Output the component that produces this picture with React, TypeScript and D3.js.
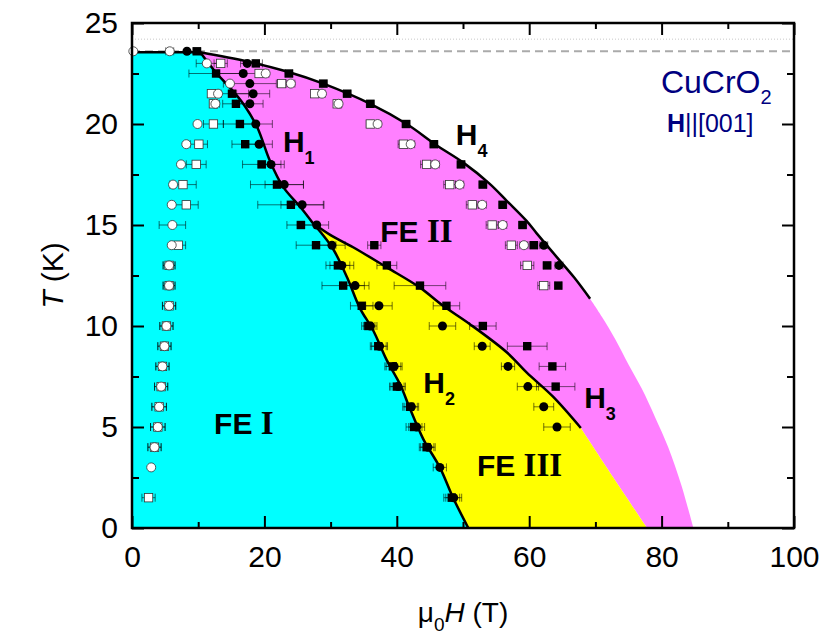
import React, { useEffect, useRef } from 'react'
import * as d3 from 'd3'

const svgWidth = 830
const svgHeight = 636
const box = { left: 132, right: 794, top: 23, bottom: 528 }

const sans = '"Liberation Sans", Arial, sans-serif'
const serif = '"Liberation Serif", "Times New Roman", serif'

const xTicks = [0, 20, 40, 60, 80, 100]
const xMinor = [10, 30, 50, 70, 90]
const yTicks = [0, 5, 10, 15, 20, 25]
const yMinor = [2.5, 7.5, 12.5, 17.5, 22.5]

// phase boundaries, [mu0H (T), T (K)]
const topLine = [[0, 23.55], [10.3, 23.55]]
const h1Line = [[10.3, 23.55], [12.8, 22.5], [14.8, 21.8], [16.8, 21.0], [18.9, 19.85], [20.8, 18.2], [22.8, 16.9], [25.4, 15.9], [27.3, 15.1]]
const h2Line = [[27.3, 15.1], [28.6, 14.6], [30.4, 13.8], [32.5, 12.4], [34.4, 10.9], [36.4, 9.8], [38.5, 8.3], [40.5, 7.1], [42, 5.9], [44, 4.4], [46.5, 3.0], [48.5, 1.5], [50.8, 0]]
const h3Line = [[27.3, 15.1], [30, 14.5], [33.4, 13.9], [38.5, 12.9], [43.5, 11.9], [47, 11.0], [51, 10.1], [56.6, 8.7], [59.6, 7.7], [63.6, 6.5], [67.8, 4.95]]
const h4Line = [[10.3, 23.55], [17.4, 23.1], [23.4, 22.6], [28.9, 22.0], [36, 21.0], [41.5, 20.0], [46, 18.95], [50, 18.1], [54, 17.05], [56.6, 16.2], [59.6, 15.2], [61.1, 14.6], [64.2, 13.4], [66.8, 12.4], [69.2, 11.35]]
// edges of the shaded areas that have no drawn line
const feIIEdge = [[69.2, 11.35], [71, 10.45], [73, 9.35], [75, 8.1], [77, 6.9], [79, 5.5], [81, 4.0], [83, 2.1], [84.8, 0]]
const feIIIEdge = [[67.8, 4.95], [72.7, 2.5], [77.8, 0]]

// [mu0H, T, error in mu0H]
const openCircles = [
	[0.2, 23.6, 0], [5.7, 23.6, 0.6], [11.3, 23, 1.6], [20.2, 22.5, 0.5], [14.8, 22, 0], [24.0, 22, 0.6],
	[13.0, 21.5, 0.5], [28.7, 21.5, 0.5], [12.6, 21, 0.6], [31.2, 21, 0.5],
	[9.9, 20, 0], [37.1, 20, 0.5], [8.2, 19, 0], [42.1, 19, 0.6], [7.4, 18, 0], [45.8, 18, 0.6],
	[6.2, 17, 0], [49.5, 17, 0.6], [6.0, 16, 0], [52.9, 16, 0.6], [6.1, 15, 2.0], [56.0, 15, 0.6],
	[6.0, 14, 0], [59.2, 14, 0.6], [5.6, 13, 0.9], [5.6, 12, 0.9], [5.6, 11, 1.0], [5.2, 10, 1.0],
	[4.9, 9, 1.0], [4.6, 8, 1.0], [4.4, 7, 1.0], [4.1, 6, 1.1], [3.9, 5, 1.1], [3.4, 4, 1.0], [2.9, 3, 0],
]
const openSquares = [
	[13.4, 23, 1.0], [19.2, 22.5, 0.5], [22.6, 22, 0.6],
	[12.0, 21.5, 0.5], [27.6, 21.5, 0.5], [12.3, 21, 0.6], [31.0, 21, 0.5],
	[12.3, 20, 1.5], [36.0, 20, 0.6], [10.1, 19, 1.3], [41.0, 19, 0.8], [9.7, 18, 1.5], [44.5, 18, 0.9],
	[7.7, 17, 2.0], [48.0, 17, 0.9], [8.2, 16, 1.8], [51.4, 16, 0.9], [54.4, 15, 0.9],
	[7.0, 14, 1.1], [57.3, 14, 0.9], [5.6, 13, 0.9], [59.7, 13, 1.0], [5.6, 12, 0.9], [62.2, 12, 0.9],
	[5.6, 11, 1.0], [5.2, 10, 1.0], [4.9, 9, 1.0], [4.6, 8, 1.0], [4.4, 7, 1.0], [4.1, 6, 1.1],
	[3.9, 5, 1.1], [3.4, 4, 1.0], [2.5, 1.5, 1.0],
]
const filledSquares = [
	[9.8, 23.6, 0.6], [18.7, 23, 1.0], [23.7, 22.5, 0.6], [28.9, 22, 0.6], [32.5, 21.5, 0.6], [36.0, 21, 0.6],
	[41.4, 20, 0.6], [45.6, 19, 0.6], [49.7, 18, 0.6], [53.0, 17, 0.6], [56.0, 16, 0.6], [59.0, 15, 0.6],
	[60.7, 14, 0.6], [62.7, 13, 0.6], [64.4, 12, 0.5],
	[12.7, 22.5, 4.1], [15.1, 21.5, 2.5], [15.7, 21, 2.0], [16.3, 20, 2.5], [17.1, 19, 2.0], [19.6, 18, 2.9],
	[21.9, 17, 4.0], [24.0, 16, 5.0], [25.5, 15, 2.1], [27.8, 14, 3.0], [31.1, 13, 1.8], [31.9, 12, 3.2],
	[34.7, 11, 1.7], [35.7, 10, 1.0], [37.2, 9, 1.2], [39.4, 8, 1.2], [40.0, 7, 1.1], [42.0, 6, 1.1],
	[42.6, 5, 1.2], [44.5, 4, 1.1], [48.3, 1.5, 1.2],
	[36.6, 14, 1.0], [38.5, 13, 1.5], [43.5, 12, 3.9], [47.5, 11, 2.0], [53.0, 10, 2.0], [59.7, 9, 3.0],
	[63.5, 8, 2.0], [64.0, 7, 2.9],
]
const filledCircles = [
	[8.3, 23.6, 0], [17.4, 23, 1.0], [16.8, 22.5, 3.8], [17.8, 22, 4.0], [18.3, 21.5, 2.5], [17.8, 21, 2.0],
	[18.7, 20, 2.5], [19.2, 19, 2.0], [21.0, 18, 2.0], [23.0, 17, 2.9], [25.7, 16, 3.2], [27.9, 15, 1.8],
	[30.2, 14, 2.0], [31.7, 13, 1.8], [33.7, 12, 2.1], [37.3, 11, 2.0], [36.0, 10, 1.0], [37.4, 9, 1.2],
	[39.6, 8, 1.2], [40.2, 7, 1.1], [42.2, 6, 1.1], [43.0, 5, 1.2], [44.7, 4, 1.1], [46.5, 3, 1.0], [48.6, 1.5, 1.2],
	[46.9, 10, 2.0], [52.9, 9, 1.2], [56.8, 8, 1.0], [59.8, 7, 1.6], [62.2, 6, 1.5], [64.2, 5, 2.0],
	[62.2, 14, 0.6], [64.5, 13, 0.6],
]

// phase names: [label, roman numeral, mu0H, T]
const phaseLabels = [
	['FE', 'I', 12.4, 4.65],
	['FE', 'II', 37.5, 14.16],
	['FE', 'III', 52.1, 2.57],
]
// critical fields: [index, mu0H, T]
const fieldLabels = [
	['1', 22.8, 18.6],
	['2', 44.0, 6.68],
	['3', 68.3, 5.94],
	['4', 48.9, 18.96],
]

const x = d3.scaleLinear().domain([0, 100]).range([box.left, box.right])
const y = d3.scaleLinear().domain([0, 25]).range([box.bottom, box.top])

const curve = d3.curveCatmullRom.alpha(0.5)
const lineGen = d3.line().x(d => x(d[0])).y(d => y(d[1])).curve(curve)
const rev = pts => pts.slice().reverse()
const area = (...parts) => parts.map((p, i) => (i ? lineGen(p).replace(/^M/, 'L') : lineGen(p))).join('') + 'Z'

const cyanPath = area([[0, 0], [0, 23.55]], h1Line, h2Line, [[50.8, 0], [0, 0]])
const magentaPath = area(h4Line, feIIEdge, [[84.8, 0], [77.8, 0]], rev(feIIIEdge), rev(h3Line), rev(h1Line))
const yellowPath = area(h2Line, [[50.8, 0], [77.8, 0]], rev(feIIIEdge), rev(h3Line))

const barColor = 'rgba(0,0,0,0.55)'

const ErrorBars = ({ data }) => (
	<g stroke={barColor} strokeWidth={1}>
		{data.filter(d => d[2] > 0).map((d, i) => {
			const x0 = x(d[0] - d[2])
			const x1 = x(d[0] + d[2])
			const yy = y(d[1])
			return (
				<g key={i}>
					<line x1={x0} x2={x1} y1={yy} y2={yy} />
					<line x1={x0} x2={x0} y1={yy - 4} y2={yy + 4} />
					<line x1={x1} x2={x1} y1={yy - 4} y2={yy + 4} />
				</g>
			)
		})}
	</g>
)

export default function App() {
	const bottomRef = useRef(null)
	const bottomMinorRef = useRef(null)
	const topRef = useRef(null)
	const topMinorRef = useRef(null)
	const leftRef = useRef(null)
	const leftMinorRef = useRef(null)
	const rightRef = useRef(null)
	const rightMinorRef = useRef(null)

	useEffect(() => {
		const style = g => {
			g.select('.domain').remove()
			g.selectAll('line').attr('stroke', '#000').attr('stroke-width', 2)
			g.attr('font-family', sans).attr('font-size', 30)
			g.selectAll('text').attr('fill', '#000')
		}
		const none = () => ''
		d3.select(bottomRef.current).call(d3.axisBottom(x).tickValues(xTicks).tickSize(-12).tickPadding(18).tickFormat(d3.format('d'))).call(style)
		d3.select(bottomMinorRef.current).call(d3.axisBottom(x).tickValues(xMinor).tickSize(-6).tickFormat(none)).call(style)
		d3.select(topRef.current).call(d3.axisTop(x).tickValues(xTicks).tickSize(-12).tickFormat(none)).call(style)
		d3.select(topMinorRef.current).call(d3.axisTop(x).tickValues(xMinor).tickSize(-6).tickFormat(none)).call(style)
		d3.select(leftRef.current).call(d3.axisLeft(y).tickValues(yTicks).tickSize(-12).tickPadding(14).tickFormat(d3.format('d'))).call(style)
		d3.select(leftMinorRef.current).call(d3.axisLeft(y).tickValues(yMinor).tickSize(-7).tickFormat(none)).call(style)
		d3.select(rightRef.current).call(d3.axisRight(y).tickValues(yTicks).tickSize(-12).tickFormat(none)).call(style)
		d3.select(rightMinorRef.current).call(d3.axisRight(y).tickValues(yMinor).tickSize(-7).tickFormat(none)).call(style)
	}, [])

	return (
		<svg width={svgWidth} height={svgHeight} style={{ position: 'absolute', left: 0, top: 0, background: '#fff' }}>
			{/* reference levels above the ordering temperature */}
			<line x1={box.left} x2={box.right} y1={y(24.2)} y2={y(24.2)} stroke="#c8c8c8" strokeWidth={1} strokeDasharray="1 2" />
			<line x1={box.left} x2={box.right} y1={y(23.6)} y2={y(23.6)} stroke="#aaa" strokeWidth={2} strokeDasharray="8 5" />

			<path d={cyanPath} fill="#00ffff" />
			<path d={magentaPath} fill="#ff80ff" />
			<path d={yellowPath} fill="#ffff00" />

			<g fill="none" stroke="#000" strokeWidth={2.5}>
				<path d={lineGen(topLine)} />
				<path d={lineGen(h1Line)} />
				<path d={lineGen(h2Line)} />
				<path d={lineGen(h3Line)} />
				<path d={lineGen(h4Line)} />
			</g>

			<ErrorBars data={openSquares} />
			<ErrorBars data={openCircles} />
			<ErrorBars data={filledSquares} />
			<ErrorBars data={filledCircles} />

			<g fill="#fff" stroke="#333" strokeWidth={0.8}>
				{openSquares.map((d, i) => (
					<rect key={i} x={x(d[0]) - 4.2} y={y(d[1]) - 4.2} width={8.4} height={8.4} />
				))}
				{openCircles.map((d, i) => (
					<circle key={i} cx={x(d[0])} cy={y(d[1])} r={4.5} />
				))}
			</g>
			<g fill="#000">
				{filledSquares.map((d, i) => (
					<rect key={i} x={x(d[0]) - 4.2} y={y(d[1]) - 4.2} width={8.4} height={8.4} />
				))}
				{filledCircles.map((d, i) => (
					<circle key={i} cx={x(d[0])} cy={y(d[1])} r={4.5} />
				))}
			</g>

			<g fontWeight="bold" fill="#000">
				{phaseLabels.map(d => (
					<text key={d[1]} x={x(d[2])} y={y(d[3])} fontSize={30}>
						<tspan fontFamily={sans}>{d[0]} </tspan>
						<tspan fontFamily={serif} fontSize={33}>{d[1]}</tspan>
					</text>
				))}
				{fieldLabels.map(d => (
					<text key={d[0]} x={x(d[1])} y={y(d[2])} fontFamily={sans} fontSize={30}>
						H<tspan fontSize={18} dy={12}>{d[0]}</tspan>
					</text>
				))}
			</g>

			<g fill="#000080" fontFamily={sans}>
				<text x={x(79.9)} y={y(21.53)} fontSize={32}>
					CuCrO<tspan fontSize={20} dy={11}>2</tspan>
				</text>
				<text x={x(80.8)} y={y(19.6)} fontSize={25}>
					<tspan fontWeight="bold">H</tspan>||[001]
				</text>
			</g>

			<g ref={bottomRef} transform={`translate(0,${box.bottom})`} />
			<g ref={bottomMinorRef} transform={`translate(0,${box.bottom})`} />
			<g ref={topRef} transform={`translate(0,${box.top})`} />
			<g ref={topMinorRef} transform={`translate(0,${box.top})`} />
			<g ref={leftRef} transform={`translate(${box.left},0)`} />
			<g ref={leftMinorRef} transform={`translate(${box.left},0)`} />
			<g ref={rightRef} transform={`translate(${box.right},0)`} />
			<g ref={rightMinorRef} transform={`translate(${box.right},0)`} />

			<rect x={box.left} y={box.top} width={box.right - box.left} height={box.bottom - box.top} fill="none" stroke="#000" strokeWidth={2.5} />

			<text x={(box.left + box.right) / 2} y={622} textAnchor="middle" fontFamily={sans} fontSize={28}>
				μ<tspan fontSize={19} dy={9}>0</tspan><tspan dy={-9} fontStyle="italic">H</tspan> (T)
			</text>
			<text transform={`translate(63,${(box.top + box.bottom) / 2}) rotate(-90)`} textAnchor="middle" fontFamily={sans} fontSize={30}>
				<tspan fontStyle="italic">T</tspan> (K)
			</text>
		</svg>
	)
}
